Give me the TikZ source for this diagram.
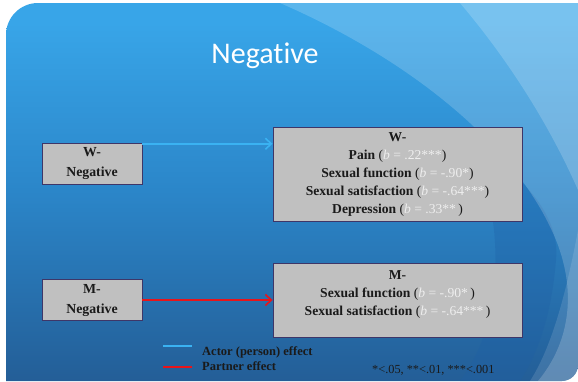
\documentclass[tikz,border=0pt]{standalone}
\usepackage{fontspec}
\setmainfont{Liberation Serif}
\newfontfamily\titlefont[Ligatures=NoCommon]{Carlito}
\usetikzlibrary{arrows.meta,calc}

\definecolor{bgtop}{HTML}{3CADED}
\definecolor{bgtoptwo}{HTML}{38A5E8}
\definecolor{bgmid}{HTML}{2B86C9}
\definecolor{bgbot}{HTML}{1C3665}
\definecolor{boxfill}{HTML}{C0C0C0}
\definecolor{boxline}{HTML}{3E3668}
\definecolor{textdark}{HTML}{1A1A1A}
\definecolor{valcol}{HTML}{EEEEEE}
\definecolor{actorblue}{HTML}{3AB2F2}
\definecolor{partnerred}{HTML}{E8141A}
\definecolor{deepblue}{HTML}{1E5FA6}

\pgfdeclareverticalshading{slidebg}{100bp}{color(0bp)=(bgbot); color(50bp)=(bgmid); color(72bp)=(bgtoptwo); color(100bp)=(bgtop)}

% regression coefficient: dark parentheses, pale value
\newcommand\coef[1]{\mdseries(\textcolor{valcol}{\textit{b} = #1})}

\begin{document}
\begin{tikzpicture}[x=1pt,y=-1pt,
  boxbase/.style={draw=boxline, line width=0.9pt, fill=boxfill, inner sep=0pt,
    align=center, text=textdark},
  srcbox/.style={boxbase, minimum width=100pt, minimum height=41pt,
    font=\bfseries\fontsize{13.8}{20}\selectfont},
  outbox/.style={boxbase, minimum width=249pt,
    font=\bfseries\fontsize{13.6}{18}\selectfont},
  outtext/.style={inner sep=0pt, align=center, text=textdark,
    font=\bfseries\fontsize{13.6}{18}\selectfont},
  actor/.style={draw=actorblue, line width=2.2pt},
  partner/.style={draw=partnerred, line width=2.4pt},
  effect/.style={-{Straight Barb[length=6pt,width=11pt,line width=1.6pt]}},
  legendtext/.style={anchor=base west, inner sep=0pt, text=textdark,
    font=\bfseries\fontsize{12.5}{14}\selectfont},
]
\useasboundingbox (0,0) rectangle (578,381);
\fill[white] (0,0) rectangle (578,381);

% slide backdrop
\begin{scope}
  \clip (6,381) -- (6,200) [rounded corners=32pt] -- (6,3) -- (300,3)
        [sharp corners] -- (578,3) -- (578,300) [rounded corners=16pt]
        -- (578,381) -- (400,381) [sharp corners] -- cycle;
  \shade[shading=slidebg] (0,0) rectangle (578,381);
  % deeper blue swell behind the outcome boxes
  \fill[deepblue, opacity=0.3] (470,140) .. controls (530,180) and (560,220) .. (556,260)
        .. controls (552,310) and (540,350) .. (520,381) -- (460,381)
        .. controls (500,330) and (510,230) .. (470,140) -- cycle;
  % pale sweeping bands on the right
  \fill[white, opacity=0.18] (280,3) .. controls (400,55) and (515,140) .. (556,240)
        .. controls (578,295) and (568,345) .. (538,381) -- (578,381) -- (578,3) -- cycle;
  \fill[white, opacity=0.18] (460,3) .. controls (500,50) and (545,115) .. (578,190)
        -- (578,3) -- cycle;
  \fill[white, opacity=0.12] (578,230) .. controls (565,300) and (550,350) .. (530,381)
        -- (578,381) -- cycle;
\end{scope}

% title
\node[anchor=base, inner sep=0pt, text=white, font=\titlefont\fontsize{30}{32}\selectfont]
  (title) at (265,63.3) {Negative};

% predictors
\node[srcbox] (wneg) at (92,163.5) {W-\\Negative};
\node[srcbox] (mneg) at (92,300) {M-\\Negative};

% outcomes
\node[outbox, minimum height=94pt] (wout) at (397.5,174) {W-\\
  Pain \coef{.22***}\\
  Sexual function \coef{-.90*}\\
  Sexual satisfaction \coef{-.64***}\\
  Depression \coef{.33**\,}};
\node[outbox, minimum height=74pt] (mout) at (397.5,300) {};
\node[outtext] (mtext) at ([yshift=6pt]mout.center) {M-\\
  Sexual function \coef{-.90*\,}\\
  Sexual satisfaction \coef{-.64***\,}};

% effects
\draw[actor, effect] ([yshift=-1.2pt]wneg.north east) -- ([yshift=-1.2pt]wneg.north east -| wout.west);
\draw[partner, effect] (mneg.east) -- (mneg.east -| mout.west);

% legend
\node[legendtext] (legA) at (202,355) {Actor (person) effect};
\node[legendtext] (legP) at (202,370) {Partner effect};
\coordinate (la1) at (163,346);
\coordinate (la2) at (192,346);
\coordinate (lp1) at (163,367);
\coordinate (lp2) at (192,367);
\draw[actor] (la1) -- (la2);
\draw[partner] (lp1) -- (lp2);

\node[anchor=base west, inner sep=0pt, text=textdark, font=\fontsize{12.3}{14}\selectfont]
  (sig) at (372,373.3) {*<.05, **<.01, ***<.001};
\end{tikzpicture}
\end{document}
